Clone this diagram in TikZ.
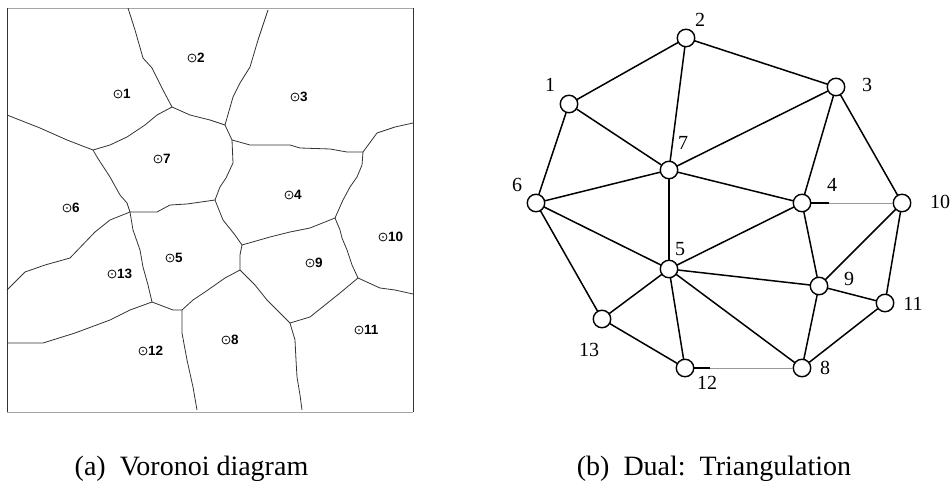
\documentclass[tikz,border=0pt]{standalone}
\usepackage{fontspec}
\setmainfont{Liberation Serif}
\newfontfamily\sitefont{Liberation Sans}
\begin{document}
\begin{tikzpicture}[x=1pt,y=-1pt,
  cell/.style={line width=0.8pt, draw=black!80, line join=round},
  frameline/.style={line width=0.9pt, draw=black!80},
  framelight/.style={line width=0.8pt, draw=black!35},
  site/.style={circle, draw, line width=0.75pt, minimum size=8pt, inner sep=0pt,
    path picture={\fill (path picture bounding box.center) circle (0.9pt);},
    label={[sitelabel]east:#1}},
  sitelabel/.style={font=\sitefont\bfseries\fontsize{13.5}{13.5}\selectfont, inner sep=0pt, xshift=0.5pt},
  vtx/.style={circle, draw, line width=1.4pt, minimum size=17.5pt, inner sep=0pt, fill=white},
  vlabel/.style={font=\fontsize{20}{20}\selectfont, inner sep=0pt},
  edge/.style={line width=1.5pt, line cap=round},
  faint/.style={line width=0.6pt, draw=black!40},
  caption/.style={font=\fontsize{28}{28}\selectfont, inner sep=0pt, anchor=base}]

\useasboundingbox (0,0) rectangle (952,481);

% ---------- (a) Voronoi diagram ----------
% frame
\draw[framelight] (7,8) -- (413,8);
\draw[framelight] (7,412) -- (413,412);
\draw[frameline] (7,8) -- (7,412);
\draw[frameline] (413,8) -- (413,412);

% vertices of the cells
\coordinate (A) at (172,107);
\coordinate (B) at (93,150);
\coordinate (C) at (225,125);
\coordinate (D) at (232,140);
\coordinate (E) at (363,152);
\coordinate (F) at (215,200);
\coordinate (G) at (130,212);
\coordinate (H) at (152,302);
\coordinate (I) at (182,310);
\coordinate (J) at (242,245);
\coordinate (K) at (335,218);
\coordinate (L) at (240,270);
\coordinate (M) at (290,323);
\coordinate (N) at (358,278);

% cell boundaries
\draw[cell] (128,8) -- (135,30) -- (143,58) -- (152,68) -- (163,90) -- (A);
\draw[cell] (A) -- (157,115) -- (145,125) -- (127,137) -- (110,145) -- (B);
\draw[cell] (B) -- (67,140) -- (40,128) -- (7,115);
\draw[cell] (A) -- (190,115) -- (210,120) -- (C);
\draw[cell] (268,10) -- (258,40) -- (250,67) -- (240,83) -- (233,97) -- (C);
\draw[cell] (C) -- (D);
\draw[cell] (D) -- (250,145) -- (290,145) -- (300,148) -- (330,149) -- (347,152) -- (E);
\draw[cell] (E) -- (377,133) -- (395,127) -- (413,123);
\draw[cell] (D) -- (233,163) -- (226,178) -- (220,187) -- (F);
\draw[cell] (B) -- (97,157) -- (110,177) -- (120,195) -- (127,203) -- (G);
\draw[cell] (G) -- (157,212) -- (170,205) -- (187,204) -- (F);
\draw[cell] (F) -- (223,220) -- (235,235) -- (J);
\draw[cell] (G) -- (110,220) -- (95,232) -- (70,258) -- (45,265) -- (25,272) -- (7,290);
\draw[cell] (G) -- (133,230) -- (140,250) -- (143,267) -- (148,285) -- (H);
\draw[cell] (H) -- (130,310) -- (110,320) -- (75,333) -- (43,343) -- (7,343);
\draw[cell] (H) -- (173,310) -- (I);
\draw[cell] (I) -- (193,300) -- (205,292) -- (225,278) -- (L);
\draw[cell] (J) -- (240,255) -- (L);
\draw[cell] (J) -- (270,237) -- (290,232) -- (310,228) -- (K);
\draw[cell] (L) -- (255,285) -- (267,300) -- (280,313) -- (M);
\draw[cell] (M) -- (310,317) -- (325,305) -- (340,293) -- (N);
\draw[cell] (N) -- (380,288) -- (395,290) -- (413,294);
\draw[cell] (N) -- (352,265) -- (347,250) -- (342,238) -- (340,230) -- (K);
\draw[cell] (K) -- (343,200) -- (350,187) -- (357,177) -- (362,165) -- (E);
\draw[cell] (M) -- (295,340) -- (296,360) -- (297,377) -- (300,395) -- (302,410);
\draw[cell] (I) -- (182,333) -- (187,360) -- (193,387) -- (197,410);

% sites
\node[site=1]  (s1)  at (118,94)  {};
\node[site=2]  (s2)  at (192,58)  {};
\node[site=3]  (s3)  at (295,97)  {};
\node[site=7]  (s7)  at (158,159) {};
\node[site=4]  (s4)  at (289,195) {};
\node[site=6]  (s6)  at (67,208)  {};
\node[site=5]  (s5)  at (170,258) {};
\node[site=13] (s13) at (112,274) {};
\node[site=12] (s12) at (143,351) {};
\node[site=10] (s10) at (383,237) {};
\node[site=9]  (s9)  at (310,263) {};
\node[site=11] (s11) at (359,330) {};
\node[site=8]  (s8)  at (226,340) {};

% ---------- (b) Dual: triangulation ----------
\node[vtx] (n1)  at (569,104) {};
\node[vtx] (n2)  at (686,38)  {};
\node[vtx] (n3)  at (836,87)  {};
\node[vtx] (n4)  at (802,203) {};
\node[vtx] (n5)  at (669,269) {};
\node[vtx] (n6)  at (536,203) {};
\node[vtx] (n7)  at (669,170) {};
\node[vtx] (n8)  at (802,368) {};
\node[vtx] (n9)  at (819,286) {};
\node[vtx] (n10) at (902,203) {};
\node[vtx] (n11) at (885,303) {};
\node[vtx] (n12) at (685,368) {};
\node[vtx] (n13) at (602,319) {};

\node[vlabel] (l2)  at (700,20)  {2};
\node[vlabel] (l1)  at (550,85)  {1};
\node[vlabel] (l7)  at (683,143) {7};
\node[vlabel] (l6)  at (517,185) {6};
\node[vlabel] (l3)  at (867,85)  {3};
\node[vlabel] (l4)  at (832,185) {4};
\node[vlabel] (l10) at (940,202) {10};
\node[vlabel] (l5)  at (680,249) {5};
\node[vlabel] (l13) at (589,350) {13};
\node[vlabel] (l12) at (707,383) {12};
\node[vlabel] (l9)  at (849,279) {9};
\node[vlabel] (l11) at (913,304) {11};
\node[vlabel] (l8)  at (825,368) {8};

\draw[edge] (n1) -- (n2);
\draw[edge] (n2) -- (n7);
\draw[edge] (n2) -- (n3);
\draw[edge] (n1) -- (n7);
\draw[edge] (n1) -- (n6);
\draw[edge] (n6) -- (n7);
\draw[edge] (n7) -- (n3);
\draw[edge] (n7) -- (n4);
\draw[edge] (n7) -- (n5);
\draw[edge] (n3) -- (n4);
\draw[edge] (n3) -- (n10);
\draw[edge] (n4) -- (n5);
\draw[edge] (n4) -- (n9);
\draw[edge] (n10) -- (n9);
\draw[edge] (n10) -- (n11);
\draw[edge] (n6) -- (n5);
\draw[edge] (n6) -- (n13);
\draw[edge] (n13) -- (n5);
\draw[edge] (n13) -- (n12);
\draw[edge] (n5) -- (n12);
\draw[edge] (n5) -- (n9);
\draw[edge] (n5) -- (n8);
\draw[edge] (n9) -- (n11);
\draw[edge] (n9) -- (n8);
\draw[edge] (n11) -- (n8);
% faint edges with a short dark stub
\draw[faint] (n4) -- (n10);
\draw[edge, line cap=butt, shorten >=64pt] (n4) -- (n10);
\draw[faint] (n12) -- (n8);
\draw[edge, line cap=butt, shorten >=83pt] (n12) -- (n8);

% captions
\node[caption] (capa) at (191.5,475) {(a)\ \ Voronoi diagram};
\node[caption] (capb) at (714,475) {(b)\ \ Dual:\ \ Triangulation};
\end{tikzpicture}
\end{document}
